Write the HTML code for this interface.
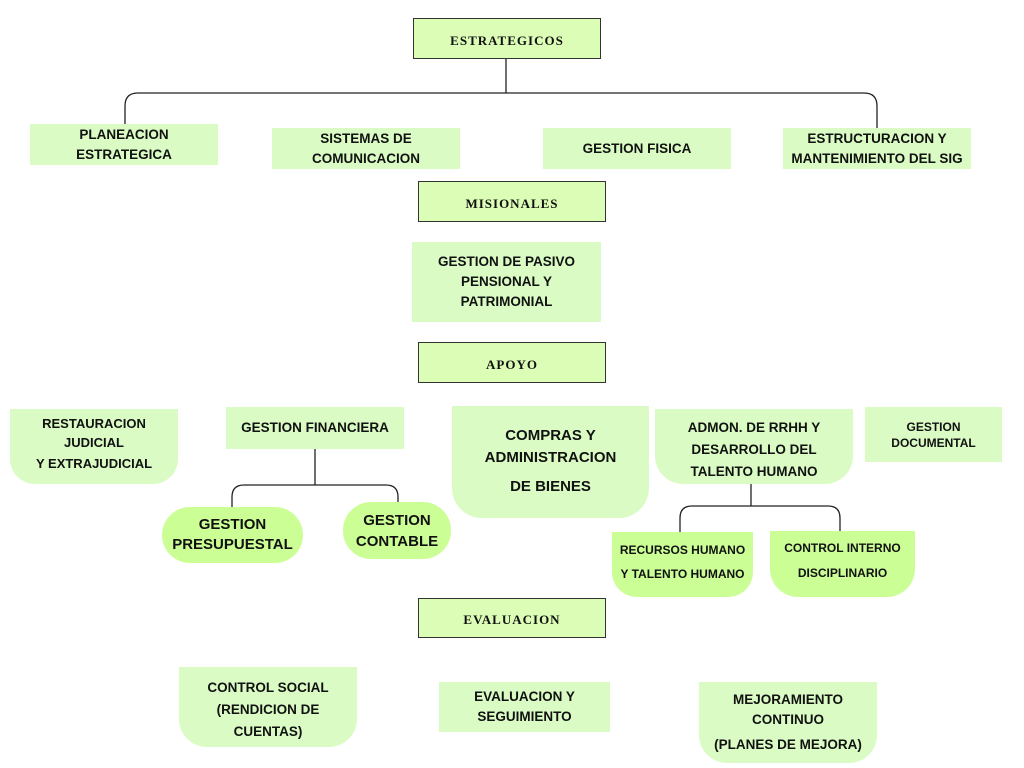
<!DOCTYPE html>
<html><head><meta charset="utf-8"><style>
body{margin:0;width:1024px;height:768px;background:#fff;position:relative;overflow:hidden;font-family:"Liberation Sans",sans-serif}
.b{position:absolute;background:#dafcc4;display:flex;flex-direction:column;align-items:center;justify-content:center;text-align:center;font-weight:bold;font-size:13.5px;color:#111;line-height:20px;box-sizing:border-box}
.h{position:absolute;background:#dcfdb6;border:1px solid #333;box-sizing:border-box;display:flex;align-items:center;justify-content:center;font-family:"Liberation Serif",serif;font-weight:bold;font-size:13px;letter-spacing:1px;color:#111;padding-top:4px}
.g{background:#ccfe96}
svg{position:absolute;left:0;top:0}
</style></head><body>
<svg width="1024" height="768" fill="none" stroke="#222" stroke-width="1.3">
<path d="M506 59V93M125 124V106Q125 93 138 93H864Q877 93 877 106V128"/>
<path d="M315 449V485M232 507V497Q232 485 244 485H386Q398 485 398 497V502"/>
<path d="M751 484V506M680 532V518Q680 506 692 506H828Q840 506 840 518V531"/>
</svg>
<div class="h" style="left:413px;top:18px;width:188px;height:41px">ESTRATEGICOS</div>
<div class="b" style="left:30px;top:124px;width:188px;height:41px">PLANEACION<br>ESTRATEGICA</div>
<div class="b" style="left:272px;top:128px;width:188px;height:41px">SISTEMAS DE<br>COMUNICACION</div>
<div class="b" style="left:543px;top:128px;width:188px;height:41px">GESTION FISICA</div>
<div class="b" style="left:783px;top:128px;width:188px;height:41px">ESTRUCTURACION Y<br>MANTENIMIENTO DEL SIG</div>
<div class="h" style="left:418px;top:181px;width:188px;height:41px">MISIONALES</div>
<div class="b" style="left:412px;top:242px;width:189px;height:80px">GESTION DE PASIVO<br>PENSIONAL Y<br>PATRIMONIAL</div>
<div class="h" style="left:418px;top:342px;width:188px;height:41px">APOYO</div>
<div class="b" style="left:10px;top:409px;width:168px;height:75px;border-radius:0 0 25px 25px;font-size:13px;line-height:19px;justify-content:flex-start;padding-top:5px">RESTAURACION<br>JUDICIAL<br><span style="line-height:24px">Y EXTRAJUDICIAL</span></div>
<div class="b" style="left:226px;top:407px;width:178px;height:42px">GESTION FINANCIERA</div>
<div class="b" style="left:452px;top:406px;width:197px;height:112px;border-radius:0 0 30px 30px;font-size:15px;line-height:22px;justify-content:flex-start;padding-top:19px">COMPRAS Y<br>ADMINISTRACION<br><span style="line-height:36px">DE BIENES</span></div>
<div class="b" style="left:655px;top:409px;width:198px;height:75px;border-radius:0 0 28px 28px;justify-content:flex-start;padding-top:8px;line-height:22px">ADMON. DE RRHH Y<br>DESARROLLO DEL<br>TALENTO HUMANO</div>
<div class="b" style="left:865px;top:407px;width:137px;height:55px;font-size:12px;line-height:16px">GESTION<br>DOCUMENTAL</div>
<div class="b g" style="left:162px;top:507px;width:141px;height:56px;border-radius:28px;font-size:15px;line-height:20px">GESTION<br>PRESUPUESTAL</div>
<div class="b g" style="left:343px;top:502px;width:108px;height:57px;border-radius:28px;font-size:15px;line-height:21px">GESTION<br>CONTABLE</div>
<div class="b g" style="left:612px;top:532px;width:141px;height:65px;border-radius:0 0 25px 25px;font-size:12px;line-height:24px;padding-bottom:6px">RECURSOS HUMANO<br>Y TALENTO HUMANO</div>
<div class="b g" style="left:770px;top:531px;width:145px;height:66px;border-radius:0 0 28px 28px;font-size:12px;line-height:25px;padding-bottom:6px">CONTROL INTERNO<br>DISCIPLINARIO</div>
<div class="h" style="left:418px;top:598px;width:188px;height:40px">EVALUACION</div>
<div class="b" style="left:179px;top:667px;width:178px;height:80px;border-radius:0 0 28px 28px;line-height:22px;padding-top:6px">CONTROL SOCIAL<br>(RENDICION DE<br>CUENTAS)</div>
<div class="b" style="left:439px;top:682px;width:171px;height:50px">EVALUACION Y<br>SEGUIMIENTO</div>
<div class="b" style="left:699px;top:682px;width:178px;height:81px;border-radius:0 0 28px 28px;line-height:20px;padding-top:4px">MEJORAMIENTO<br>CONTINUO<br><span style="line-height:30px">(PLANES DE MEJORA)</span></div>
</body></html>
